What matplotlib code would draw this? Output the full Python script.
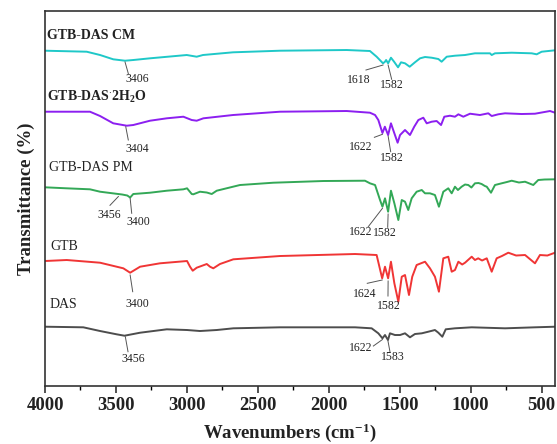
#!/usr/bin/env python3
"""FTIR spectra of GTB, DAS and their solid forms (stacked, offset)."""

import matplotlib

matplotlib.use("Agg")
import matplotlib.pyplot as plt
from matplotlib.ticker import MultipleLocator

# Wavenumbers (cm-1) and offset transmittance (a.u.)
wn_cm = [4000, 3706, 3612, 3519, 3436, 3378, 3260, 3001, 2931, 2887, 2675, 2344,
         1874, 1710, 1663, 1618, 1604, 1596, 1582, 1562, 1540, 1512, 1491, 1463,
         1430, 1393, 1357, 1322, 1275, 1228, 1205, 1169, 1111, 1040, 970, 864,
         852, 829, 711, 570, 535, 500, 406]
tr_cm = [335.3, 334.3, 331, 326.7, 325.3, 326, 327.7, 331, 329.3, 331, 333.7, 335.3,
         336, 335, 329.3, 322.7, 324.3, 326, 322.7, 328.3, 324.3, 318.7, 323.7, 322.7,
         319.3, 323.7, 327.7, 329, 328.3, 327, 324.3, 329.3, 330.3, 331, 332.7, 332.7,
         331, 332.7, 333.3, 332.7, 331.7, 334.3, 335.7]

wn_hyd = [4000, 3683, 3612, 3519, 3424, 3378, 3260, 3142, 3025, 2966, 2931, 2884,
          2675, 2344, 1874, 1710, 1674, 1651, 1622, 1605, 1582, 1562, 1546, 1515,
          1498, 1463, 1428, 1398, 1369, 1334, 1310, 1275, 1240, 1209, 1186, 1146,
          1111, 1087, 1052, 1005, 935, 876, 852, 806, 758, 641, 547, 441, 406]
tr_hyd = [274.3, 274.3, 270, 262.7, 260.3, 261, 265.3, 267.7, 269.3, 266, 265.3, 267.7,
          271, 274.3, 275, 273.3, 271, 266, 253, 259.3, 251, 262.7, 256, 243.3,
          251, 256, 251, 259.3, 266, 268.3, 262.7, 264.3, 265, 261, 269.3, 270.3,
          269.3, 271.7, 269.3, 272.3, 271, 272.7, 270, 271.7, 272.7, 272, 272.3, 275, 273.3]

wn_pm = [4000, 3847, 3683, 3612, 3456, 3420, 3400, 3378, 3260, 3142, 3025, 2999,
         2966, 2955, 2908, 2860, 2825, 2790, 2626, 2391, 2039, 1745, 1710, 1674,
         1639, 1622, 1604, 1582, 1562, 1538, 1510, 1486, 1463, 1440, 1416, 1381,
         1345, 1322, 1287, 1252, 1224, 1193, 1158, 1134, 1111, 1090, 1064, 1040,
         1017, 995, 970, 945, 923, 900, 887, 857, 829, 782, 745, 711, 660, 617,
         559, 524, 480, 406]
tr_pm = [198.7, 197.7, 196.7, 194.3, 191.5, 190.5, 188.5, 192, 193.3, 195.3, 196.7, 197.7,
         192, 191.7, 194.3, 193.5, 192, 195.3, 201, 203.3, 205, 205.3, 202.7, 201,
         186, 179.3, 187.7, 174.3, 195.3, 182.7, 166, 186, 184.3, 176, 187.7, 194.3,
         196, 192.7, 192.7, 191, 179.3, 194.3, 197.7, 192.7, 199.3, 196, 199.3, 201.5,
         201, 198.5, 202.7, 203, 202, 200, 199.3, 193.3, 201, 202.7, 204, 205.3, 203.5, 204.3,
         201, 206, 206.5, 206.7]

wn_gtb = [4000, 3847, 3612, 3448, 3400, 3330, 3190, 2999, 2978, 2959, 2931, 2860,
          2837, 2814, 2767, 2673, 2344, 1815, 1663, 1624, 1604, 1582, 1562, 1538,
          1510, 1486, 1463, 1435, 1412, 1381, 1322, 1287, 1252, 1224, 1193, 1158,
          1134, 1111, 1087, 1060, 1040, 1015, 993, 970, 947, 920, 887, 852, 817,
          780, 735, 680, 617, 547, 512, 460, 406]
tr_gtb = [125, 126, 123.3, 117.7, 113.3, 119.3, 122.7, 125, 119.3, 115.3, 118.3, 122,
          119.3, 117.7, 122, 126.7, 130, 132, 131, 107.7, 119.3, 107.7, 124.3, 102.7,
          84.3, 109.3, 111, 91, 109.3, 121, 124.3, 117.7, 109.3, 94.3, 127.7, 129.3,
          114.3, 116, 124.3, 121.5, 123.3, 126.5, 129.3, 126, 127.7, 125.5, 127.7, 114.3, 127.7,
          130, 133.3, 130.5, 131, 122.7, 131, 130.5, 133.3]

wn_das = [4000, 3730, 3612, 3495, 3440, 3330, 3142, 2999, 2908, 2790, 2673, 2344,
          1815, 1698, 1651, 1622, 1604, 1583, 1569, 1534, 1498, 1463, 1428, 1393,
          1345, 1299, 1252, 1228, 1200, 1176, 1111, 993, 758, 547, 406]
tr_das = [59.3, 58.7, 55, 51.7, 50.3, 53.3, 56.7, 56, 55, 56, 57.7, 58.7,
          58.7, 57.7, 52.7, 47.7, 51, 46, 52.7, 51, 51, 52.7, 48.7, 52,
          52.7, 54.3, 56, 53.3, 49.3, 56.7, 57.7, 58.7, 57.7, 58.7, 59.3]

# (name, bold, label x, label y, colour, wavenumbers, transmittance)
samples = [
    ("GTB-DAS CM", True, 3985, 351, "#1fc8c8", wn_cm, tr_cm),
    (r"GTB-DAS$^{\mathbf{\cdot}}$2H$_{\mathbf{2}}$O", True, 3985, 289, "#8c1ff0", wn_hyd, tr_hyd),
    ("GTB-DAS PM", False, 3972, 219, "#33a857", wn_pm, tr_pm),
    ("GTB", False, 3965, 140, "#f03535", wn_gtb, tr_gtb),
    ("DAS", False, 3965, 82, "#4d4d4d", wn_das, tr_das),
]

# (text, peak x, peak y, leader end x, leader end y, text x, text y)
peak_labels = [
    ("3406", 3436, 324, 3412, 312, 3352, 307),
    ("1618", 1618, 321, 1738, 316, 1789, 306),
    ("1582", 1582, 321, 1557, 306.7, 1555, 301),
    ("3404", 3431, 259.3, 3413, 246, 3352, 237),
    ("1622", 1622, 251.7, 1679, 248.7, 1774, 239.3),
    ("1582", 1582, 250, 1564, 234.3, 1555, 228),
    ("3456", 3483, 189.5, 3542, 180.7, 3550, 171),
    ("3400", 3400, 187.7, 3389, 172.7, 3342, 163.7),
    ("1622", 1622, 177.7, 1722, 159.3, 1774, 153.7),
    ("1582", 1582, 172, 1585, 158.7, 1602, 152.7),
    ("3400", 3400, 111, 3382, 94.3, 3348, 82),
    ("1624", 1624, 106, 1729, 102.7, 1747, 92),
    ("1582", 1582, 105, 1583, 90, 1578, 80),
    ("3456", 3434, 49.3, 3415, 34.3, 3380, 26.7),
    ("1622", 1622, 46.5, 1686, 40, 1777, 37.7),
    ("1583", 1583, 45, 1569, 34.3, 1551, 28.7),
]

plt.rcParams["font.family"] = ["Liberation Serif", "DejaVu Serif"]
plt.rcParams["mathtext.fontset"] = "custom"
plt.rcParams["mathtext.rm"] = "Liberation Serif"
plt.rcParams["mathtext.bf"] = "Liberation Serif:bold"
plt.rcParams["mathtext.it"] = "Liberation Serif:italic"


def main():
    fig = plt.figure(figsize=(5.57, 4.44), dpi=100)
    ax = fig.add_axes([0.0808, 0.1306, 0.9156, 0.8446])

    for name, bold, lx, ly, color, wn, tr in samples:
        ax.plot(wn, tr, color=color, linewidth=1.4, solid_joinstyle="round")
        ax.text(lx, ly, name, fontsize=10, fontweight="bold" if bold else "normal",
                ha="left", va="center", color="#222222")

    for text, x0, y0, x1, y1, tx, ty in peak_labels:
        ax.plot([x0, x1], [y0, y1], color="#555555", linewidth=0.7)
        ax.text(tx, ty, text, fontsize=8.5, ha="center", va="center", color="#222222")

    ax.set_xlim(4000, 406)
    ax.set_ylim(0, 375)
    ax.xaxis.set_major_locator(MultipleLocator(500))
    ax.xaxis.set_minor_locator(MultipleLocator(250))
    ax.set_yticks([])
    ax.tick_params(axis="x", which="major", direction="out", length=5, width=1.1,
                   pad=3, labelsize=13.5, colors="#222222")
    ax.tick_params(axis="x", which="minor", direction="out", length=3, width=1.0)
    for label in ax.get_xticklabels():
        label.set_fontweight("bold")
    for spine in ax.spines.values():
        spine.set_linewidth(1.2)
        spine.set_color("#333333")

    ax.set_xlabel(r"Wavenumbers (cm$^{\mathbf{-1}}$)", fontsize=13.5,
                  fontweight="bold", color="#222222")
    ax.xaxis.set_label_coords(0.479, -0.095)
    ax.set_ylabel("Transmittance (%)", fontsize=13.5, fontweight="bold",
                  color="#222222")
    ax.yaxis.set_label_coords(-0.02, 0.5)

    fig.savefig("out.png", dpi=100)


if __name__ == "__main__":
    main()
